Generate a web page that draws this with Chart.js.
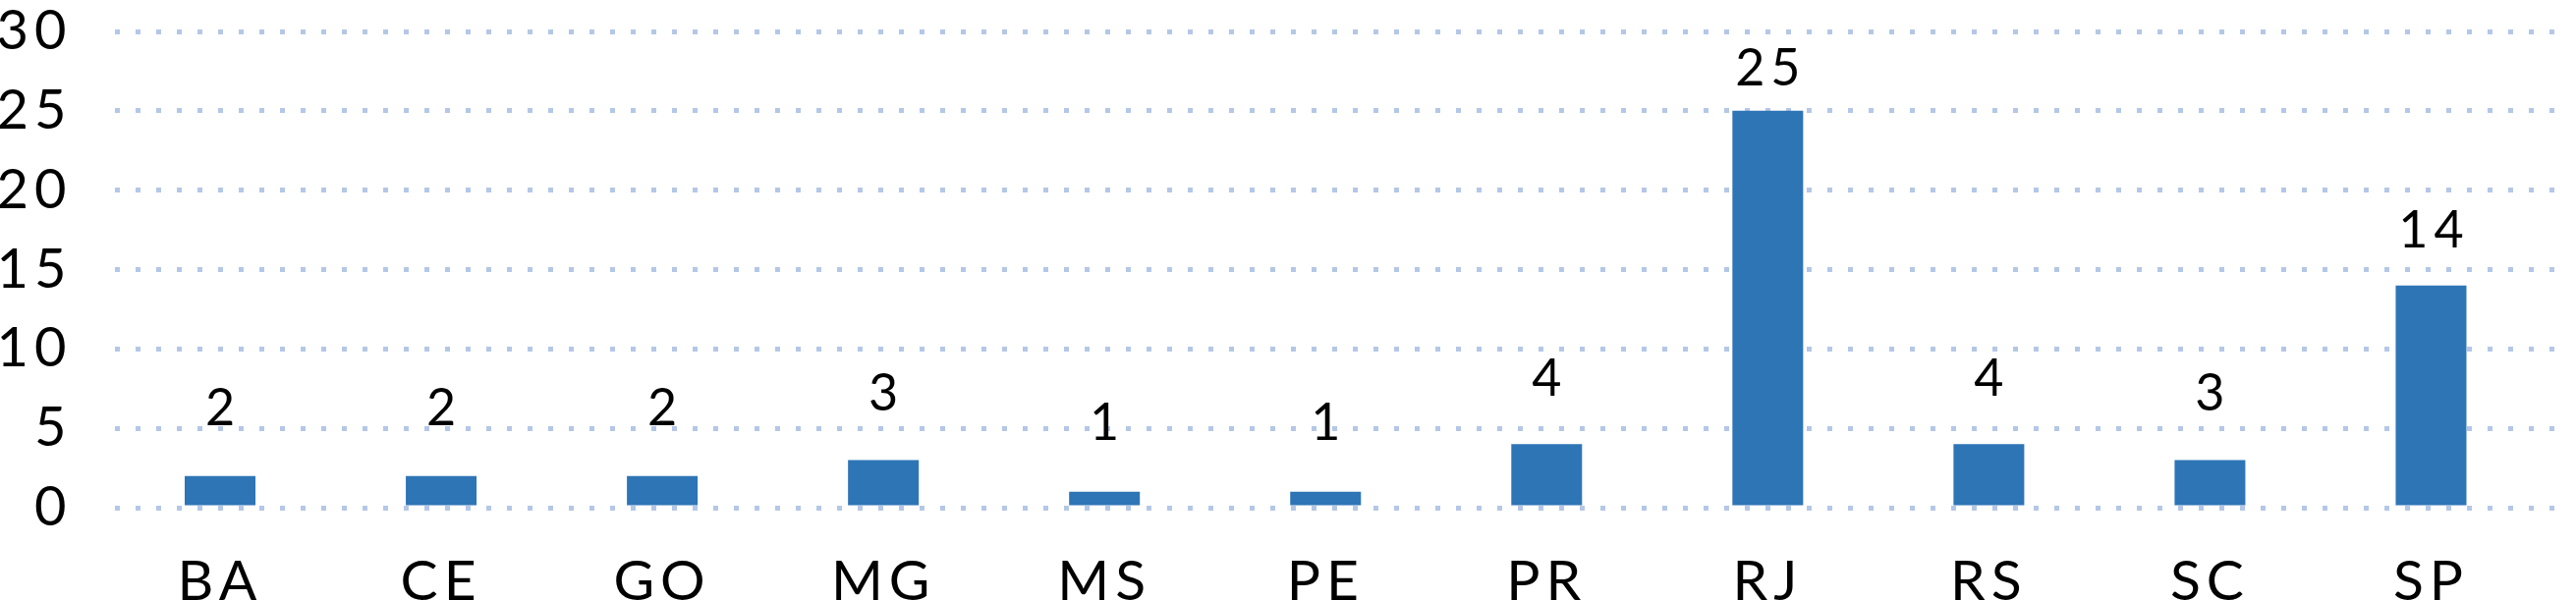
<!DOCTYPE html>
<html>
<head>
<meta charset="utf-8">
<script src="https://cdn.jsdelivr.net/npm/chart.js@4"></script>
<style>
  body { margin: 0; background: #fff; }
  #wrap { width: 2622px; height: 611px; }
</style>
</head>
<body>
<div id="wrap"><canvas id="myChart"></canvas></div>
<script>
const states = ['BA', 'CE', 'GO', 'MG', 'MS', 'PE', 'PR', 'RJ', 'RS', 'SC', 'SP']
const counts = [2, 2, 2, 3, 1, 1, 4, 25, 4, 3, 14]
const yTicks = [0, 5, 10, 15, 20, 25, 30]

const ctx = document.getElementById('myChart').getContext('2d')

// wider letter spacing, like the original
const spacing = {
    id: 'spacing',
    beforeUpdate: (chart) => { chart.ctx.letterSpacing = '6px' },
    beforeDraw: (chart) => { chart.ctx.letterSpacing = '6px' },
}

// value above each bar
const barLabels = {
    id: 'barLabels',
    afterDatasetsDraw(chart) {
        const c = chart.ctx
        const meta = chart.getDatasetMeta(0)
        c.save()
        c.font = '52px Lato'
        c.fillStyle = '#000'
        c.textAlign = 'center'
        c.textBaseline = 'alphabetic'
        meta.data.forEach((bar, i) => {
            const h = bar.base - bar.y
            c.fillText(counts[i], bar.x + 3, bar.y - (54 - 0.07 * h))
        })
        c.restore()
    }
}

const data = {
    labels: states,
    datasets: [
    {
        data: counts,
        backgroundColor: '#2E75B6',
        borderWidth: 0,
        categoryPercentage: 1,
        barPercentage: 0.32,
    },
],
}

const config = {
    type: 'bar',
    data: data,
    plugins: [spacing, barLabels],
    options: {
        responsive: true,
        maintainAspectRatio: false,
        animation: false,
        layout: { padding: { top: 32, right: 8, bottom: 0, left: 0 } },
        plugins: {
            legend: { display: false },
            tooltip: { enabled: false },
        },
        scales: {
            x: {
                grid: { display: false, drawTicks: false },
                border: { display: false },
                ticks: {
                    color: '#000',
                    padding: 47,
                    font: { family: 'Lato', size: 57, lineHeight: 1 },
                },
                // plot area runs a little past the last category
                afterBuildTicks: (scale) => { scale._valueRange = states.length + 0.12 },
                afterFit: (scale) => {
                    scale.height = 94
                    scale.paddingLeft = 0
                    scale.paddingRight = 0
                },
            },
            y: {
                min: 0,
                max: 30,
                grid: {
                    color: '#B4C7E7',
                    lineWidth: 5,
                    drawTicks: false,
                },
                border: { display: false, dash: [5, 16], dashOffset: -5 },
                afterBuildTicks: (scale) => {
                    scale.ticks = yTicks.map(v => ({ value: v }))
                },
                ticks: {
                    color: '#000',
                    padding: 38,
                    font: { family: 'Lato', size: 56, lineHeight: 1 },
                },
                afterFit: (scale) => {
                    scale.width = 111.5
                    scale.paddingTop = 0
                    scale.paddingBottom = 0
                },
            },
        },
    },
}

const myChart = new Chart(ctx, config)
</script>
</body>
</html>
